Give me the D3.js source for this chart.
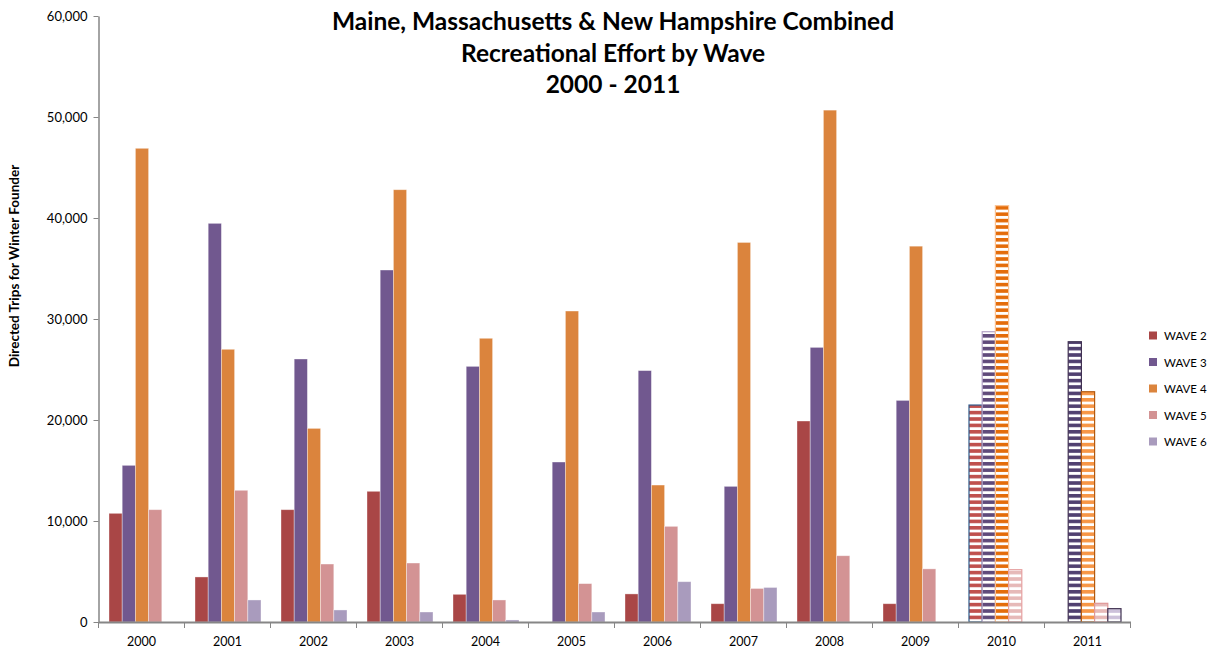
<!DOCTYPE html>
<html>
<head>
<meta charset="utf-8">
<script src="https://cdn.jsdelivr.net/npm/d3@7"></script>
<style>
  html, body { margin: 0; padding: 0; background: #fff; }
  svg { display: block; }
</style>
</head>
<body>
<svg id="chart" width="1230" height="652"></svg>
<script>
// ---- data ----
const years = ["2000","2001","2002","2003","2004","2005","2006","2007","2008","2009","2010","2011"];
const waves = ["WAVE 2","WAVE 3","WAVE 4","WAVE 5","WAVE 6"];
const wave2 = [10760, 4460, 11120, 12940, 2740, 0, 2780, 1810, 19900, 1810, 21480, 0];
const wave3 = [15510, 39470, 26040, 34850, 25310, 15840, 24890, 13430, 27190, 21940, 28740, 27750];
const wave4 = [46900, 27000, 19170, 42800, 28090, 30790, 13560, 37580, 50680, 37210, 41220, 22800];
const wave5 = [11120, 13040, 5740, 5840, 2180, 3800, 9470, 3320, 6560, 5260, 5180, 1850];
const wave6 = [0, 2180, 1190, 990, 200, 990, 3990, 3420, 0, 0, 0, 1320];
const yTicks = [0, 10000, 20000, 30000, 40000, 50000, 60000];
const hatchedYears = ["2010", "2011"];
const titleLines = ["Maine, Massachusetts & New Hampshire Combined", "Recreational Effort by Wave", "2000 - 2011"];
const yLabel = "Directed Trips for Winter Founder";

const seriesValues = [wave2, wave3, wave4, wave5, wave6];
const solidColors = ["#A94646", "#71588F", "#DB843D", "#D39394", "#A99BBD"];
// hatched (stripe, outline) colours by year
const hatchStyles = {
  "2010": { stripe: ["#C0504D", "#604A7B", "#E46C0A", "#E6B9B8", "#B3A2C7"],
            outline: ["#2E5A8A", "#B3A2C7", "#FAC090", "#E6A0A0", "#B3A2C7"] },
  "2011": { stripe: ["#C0504D", "#504070", "#F79646", "#E6B9B8", "#CCC1DA"],
            outline: ["#C0504D", "#403152", "#B35A10", "#E09898", "#3F3151"] }
};

// ---- layout ----
const svg = d3.select("#chart");
const plotLeft = 98.5, plotRight = 1130.5, plotTop = 16, plotBottom = 622;

const x0 = d3.scaleBand().domain(years).range([plotLeft, plotRight]).padding(0);
const x1 = d3.scaleBand().domain(waves).range([10.5, 76.5]).padding(0);
const y = d3.scaleLinear().domain([0, 60000]).range([plotBottom, plotTop]);

// patterns
const defs = svg.append("defs");
hatchedYears.forEach(yr => {
  waves.forEach((w, i) => {
    const p = defs.append("pattern")
      .attr("id", `hatch-${yr}-${i}`)
      .attr("patternUnits", "userSpaceOnUse")
      .attr("width", 8).attr("height", 6.4)
      .attr("y", plotBottom);
    p.append("rect").attr("width", 8).attr("height", 6.4).attr("fill", "#fff");
    p.append("rect").attr("y", 0).attr("width", 8).attr("height", 3.6).attr("fill", hatchStyles[yr].stripe[i]);
  });
});

// bars
const data = [];
years.forEach((yr, yi) => {
  waves.forEach((w, wi) => {
    data.push({ year: yr, wave: w, wi, value: seriesValues[wi][yi] });
  });
});

const gBars = svg.append("g");
gBars.selectAll("rect")
  .data(data.filter(d => d.value > 0))
  .join("rect")
  .attr("x", d => x0(d.year) + x1(d.wave))
  .attr("width", x1.bandwidth())
  .attr("y", d => y(d.value))
  .attr("height", d => y(0) - y(d.value))
  .attr("fill", d => hatchedYears.includes(d.year) ? `url(#hatch-${d.year}-${d.wi})` : solidColors[d.wi])
  .attr("stroke", d => hatchedYears.includes(d.year) ? hatchStyles[d.year].outline[d.wi] : "rgba(255,255,255,0.45)")
  .attr("stroke-width", d => hatchedYears.includes(d.year) ? 1.2 : 0.8);

// axes
const axisColor = "#868686";
const yAxis = svg.append("g")
  .attr("transform", `translate(${plotLeft},0)`)
  .call(d3.axisLeft(y).tickValues(yTicks).tickFormat(d3.format(",")).tickSize(5).tickSizeOuter(0));
yAxis.select(".domain").attr("stroke", axisColor).attr("stroke-width", 1.5);
yAxis.selectAll(".tick line").attr("stroke", axisColor);
yAxis.selectAll(".tick text")
  .attr("x", -11)
  .attr("font-family", "Lato, 'Open Sans', sans-serif")
  .attr("font-size", 13)
  .attr("fill", "#000");

const xAxis = svg.append("g")
  .attr("transform", `translate(0,${plotBottom})`)
  .call(d3.axisBottom(x0).tickSize(0).tickSizeOuter(0));
xAxis.select(".domain").attr("stroke", axisColor).attr("stroke-width", 2);
xAxis.selectAll(".tick text")
  .attr("y", 15)
  .attr("dy", "0.71em")
  .attr("font-family", "Lato, 'Open Sans', sans-serif")
  .attr("font-size", 12.5)
  .attr("fill", "#000");
// category separator ticks
svg.append("g").selectAll("line")
  .data(years.concat(["end"]))
  .join("line")
  .attr("x1", (d, i) => i < years.length ? x0(d) : plotRight)
  .attr("x2", (d, i) => i < years.length ? x0(d) : plotRight)
  .attr("y1", plotBottom)
  .attr("y2", plotBottom + 6)
  .attr("stroke", axisColor)
  .attr("stroke-width", 1);

// title
svg.append("g").selectAll("text")
  .data(titleLines)
  .join("text")
  .attr("x", 613)
  .attr("y", (d, i) => 30 + i * 31.5)
  .attr("text-anchor", "middle")
  .attr("font-family", "Lato, 'Open Sans', sans-serif")
  .attr("font-weight", "bold")
  .attr("font-size", 24.5)
  .attr("fill", "#000")
  .text(d => d);

// y label
svg.append("text")
  .attr("transform", "translate(19,266) rotate(-90)")
  .attr("text-anchor", "middle")
  .attr("font-family", "Lato, 'Open Sans', sans-serif")
  .attr("font-weight", "bold")
  .attr("font-size", 13.5)
  .attr("fill", "#000")
  .text(yLabel);

// legend
const legend = svg.append("g").attr("transform", "translate(1149,336)");
const li = legend.selectAll("g").data(waves).join("g")
  .attr("transform", (d, i) => `translate(0,${i * 26.5})`);
li.append("rect").attr("x", 0).attr("y", -4.5).attr("width", 8).attr("height", 8)
  .attr("fill", (d, i) => solidColors[i]);
li.append("text").attr("x", 15).attr("y", 4)
  .attr("font-family", "Lato, 'Open Sans', sans-serif")
  .attr("font-size", 11.5)
  .attr("fill", "#000")
  .text(d => d);
</script>
</body>
</html>
